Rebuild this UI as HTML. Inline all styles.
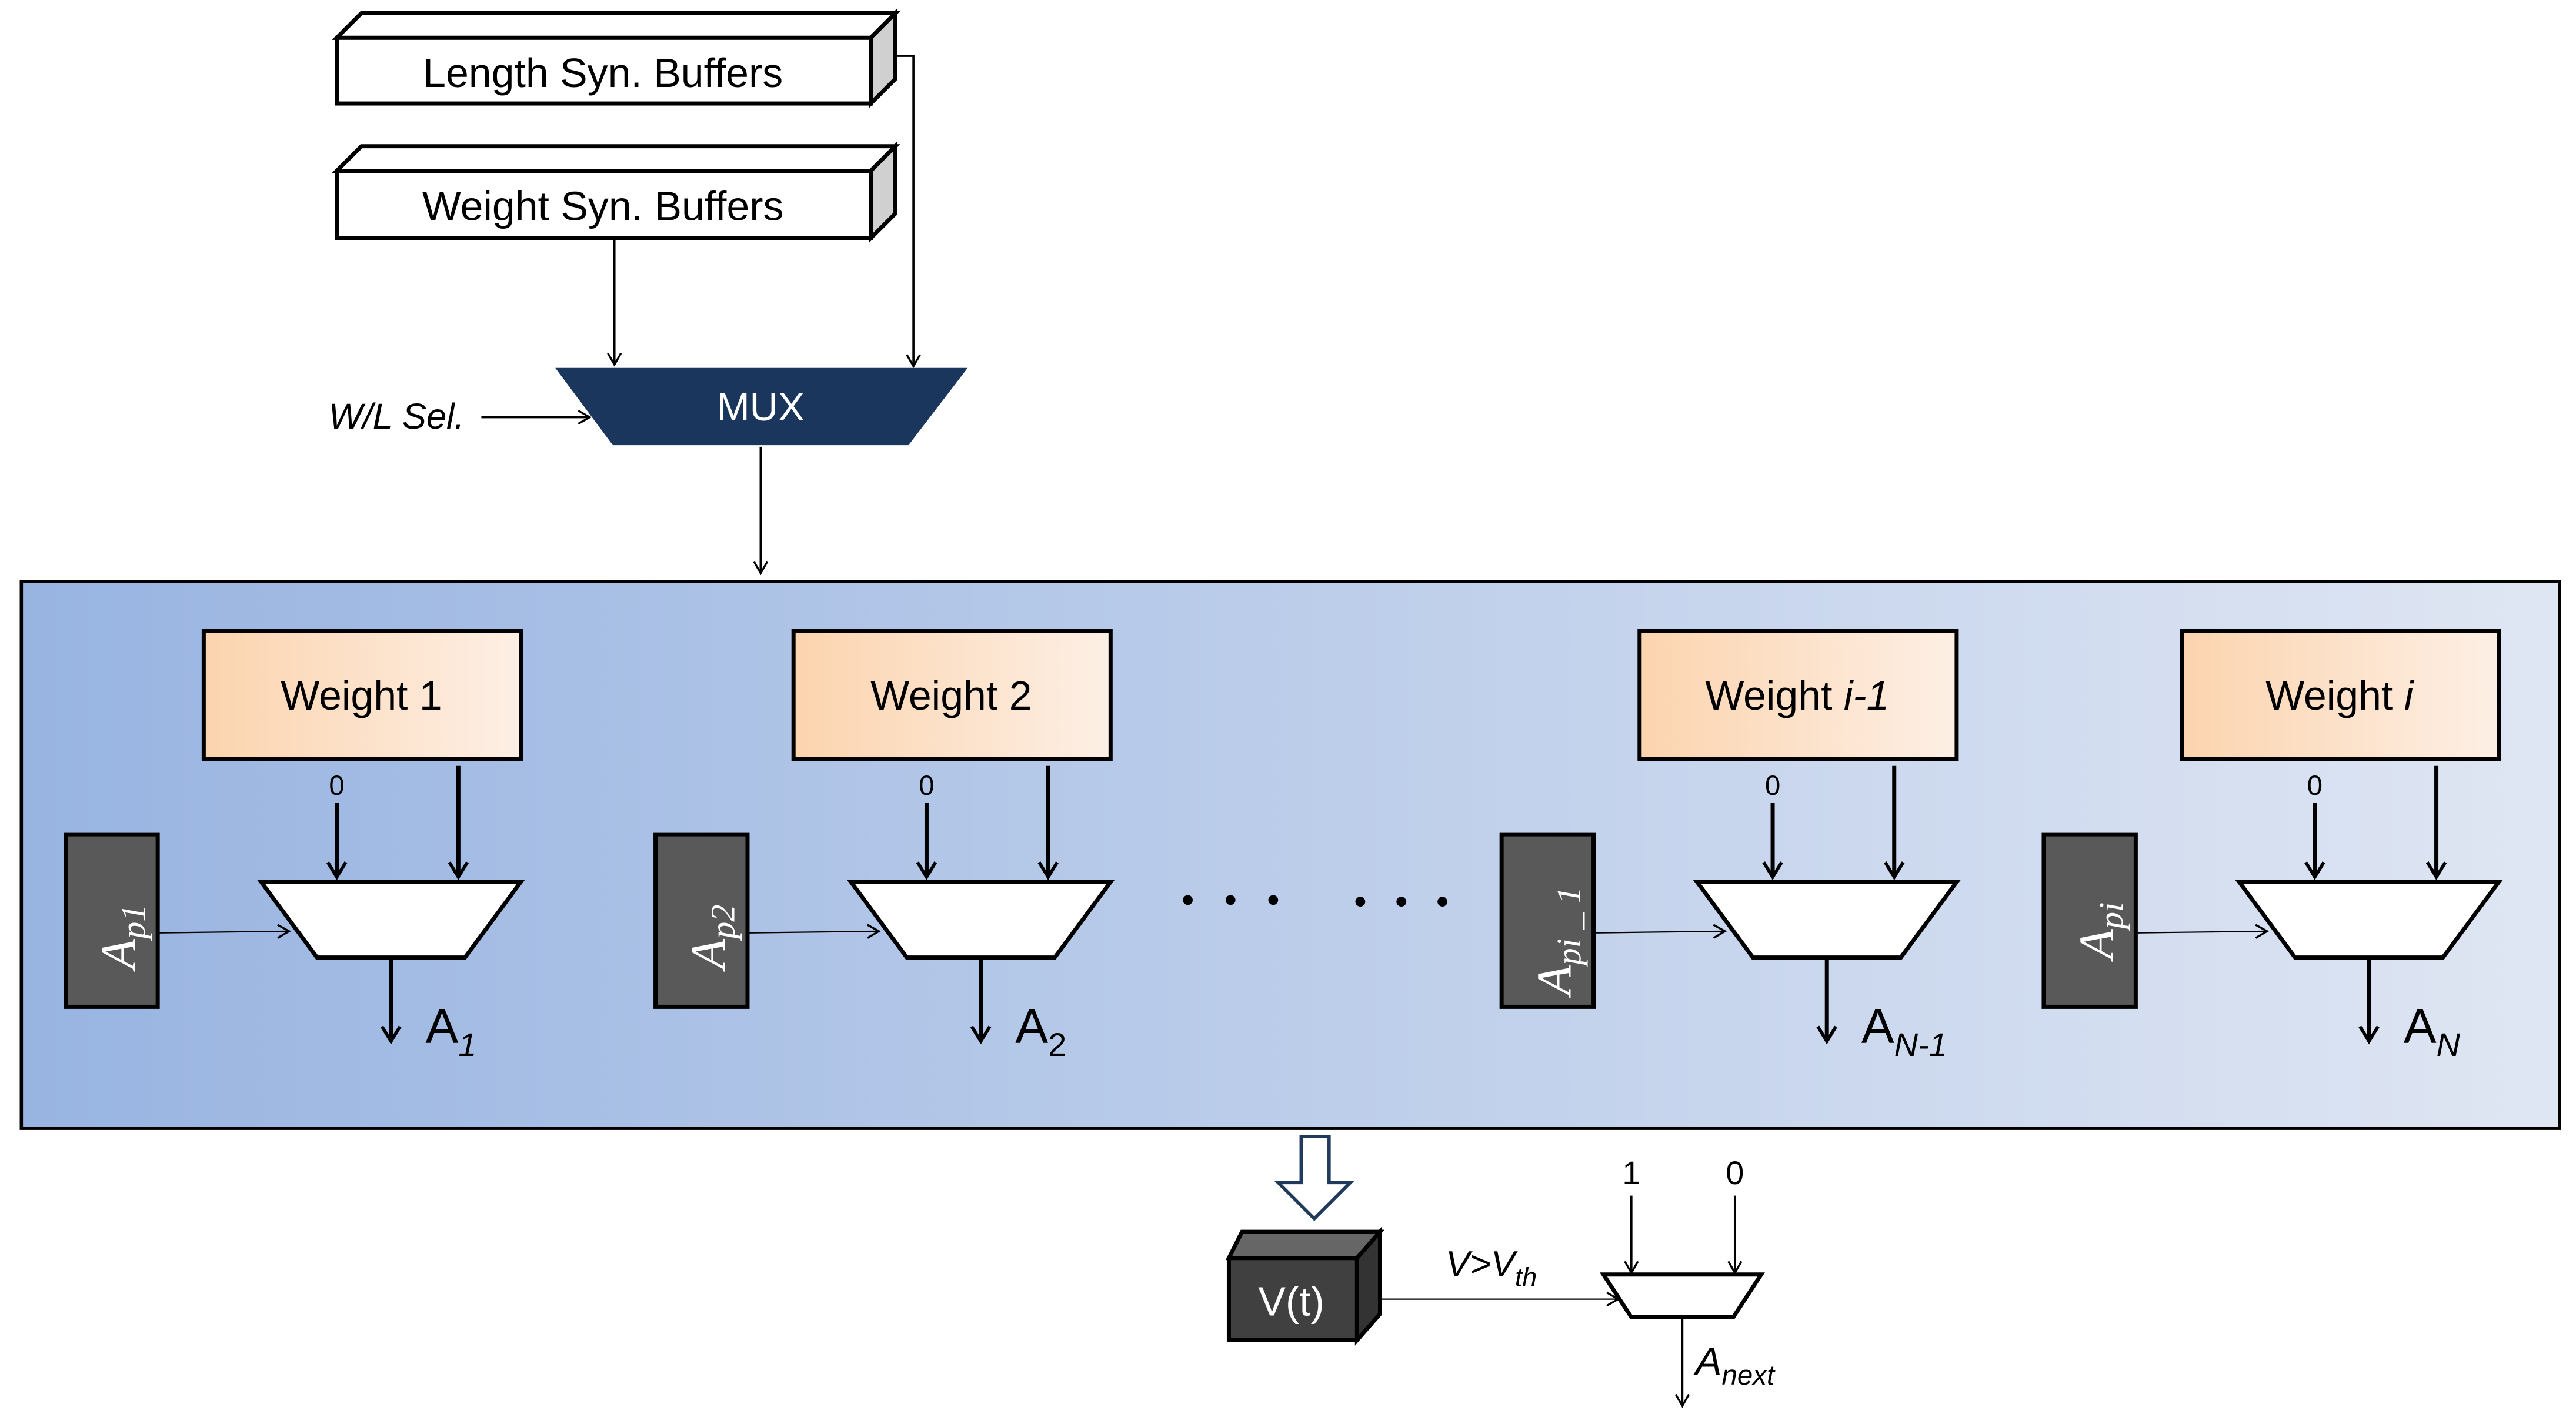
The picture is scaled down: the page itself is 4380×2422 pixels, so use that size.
<!DOCTYPE html>
<html><head><meta charset="utf-8"><style>
html,body{margin:0;padding:0;background:#fff}
svg{display:block}
</style></head><body>
<svg width="4380" height="2422" viewBox="0 0 1568 867" xmlns="http://www.w3.org/2000/svg" font-family="Liberation Sans, sans-serif">
<defs>
<linearGradient id="bg" x1="0" x2="1" y1="0" y2="0"><stop offset="0" stop-color="#98b4e1"/><stop offset="1" stop-color="#dfe6f3"/></linearGradient>
<linearGradient id="wg" x1="0" x2="1" y1="0" y2="0"><stop offset="0" stop-color="#fcd4ae"/><stop offset="1" stop-color="#fdefe5"/></linearGradient>
<marker id="ah" markerWidth="10" markerHeight="10" refX="8" refY="5" orient="auto" markerUnits="userSpaceOnUse"><path d="M1,1 L8,5 L1,9" fill="none" stroke="#000" stroke-width="1.2"/></marker>
<marker id="ahb" markerWidth="12" markerHeight="14" refX="10" refY="7" orient="auto" markerUnits="userSpaceOnUse"><path d="M1,1.5 L10,7 L1,12.5" fill="none" stroke="#000" stroke-width="2"/></marker>
</defs>
<g stroke="#000" stroke-width="2.5">
<polygon points="205,23 220,8 545,8 530,23" fill="#fff"/>
<polygon points="530,23 545,8 545,48 530,63" fill="#d0d0d0"/>
<rect x="205" y="23" width="325" height="40" fill="#fff"/>
<polygon points="205,104 220,89 545,89 530,104" fill="#fff"/>
<polygon points="530,104 545,89 545,130 530,145" fill="#d0d0d0"/>
<rect x="205" y="104" width="325" height="41" fill="#fff"/>
</g>
<text x="367" y="53" font-size="25" text-anchor="middle">Length Syn. Buffers</text>
<text x="367" y="134" font-size="25" text-anchor="middle">Weight Syn. Buffers</text>
<g stroke="#000" stroke-width="1.3" fill="none">
<polyline points="545,34 556,34 556,223" marker-end="url(#ah)"/>
<line x1="374" y1="145" x2="374" y2="222" marker-end="url(#ah)"/>
<line x1="293" y1="254" x2="359" y2="254" marker-end="url(#ah)"/>
<line x1="463" y1="272" x2="463" y2="349" marker-end="url(#ah)"/>
</g>
<polygon points="338,224 589,224 553,271 373,271" fill="#1b365d"/>
<text x="463" y="256" font-size="24" fill="#fff" text-anchor="middle">MUX</text>
<text x="200" y="261" font-size="22" font-style="italic">W/L Sel.</text>
<rect x="13" y="354" width="1545" height="333" fill="url(#bg)" stroke="#000" stroke-width="2"/>
<g font-size="25">
<g transform="translate(0,0)">
<rect x="124" y="384" width="193" height="78" fill="url(#wg)" stroke="#000" stroke-width="2.5"/>
<text x="220" y="432" text-anchor="middle">Weight 1</text>
</g>
<g transform="translate(359,0)">
<rect x="124" y="384" width="193" height="78" fill="url(#wg)" stroke="#000" stroke-width="2.5"/>
<text x="220" y="432" text-anchor="middle">Weight 2</text>
</g>
<g transform="translate(874,0)">
<rect x="124" y="384" width="193" height="78" fill="url(#wg)" stroke="#000" stroke-width="2.5"/>
<text x="220" y="432" text-anchor="middle">Weight <tspan font-style="italic">i-1</tspan></text>
</g>
<g transform="translate(1204,0)">
<rect x="124" y="384" width="193" height="78" fill="url(#wg)" stroke="#000" stroke-width="2.5"/>
<text x="220" y="432" text-anchor="middle">Weight <tspan font-style="italic">i</tspan></text>
</g>
</g>
<g>
<g transform="translate(0,0)">
<text x="205" y="484" font-size="17" text-anchor="middle">0</text>
<line x1="205" y1="489" x2="205" y2="534" stroke="#000" stroke-width="2.5" marker-end="url(#ahb)"/>
<line x1="279" y1="466" x2="279" y2="534" stroke="#000" stroke-width="2.5" marker-end="url(#ahb)"/>
<polygon points="159,537 317,537 283,583 193,583" fill="#fff" stroke="#000" stroke-width="2.5"/>
<line x1="238" y1="583" x2="238" y2="634" stroke="#000" stroke-width="2.5" marker-end="url(#ahb)"/>
<rect x="40" y="508" width="56" height="105" fill="#595959" stroke="#000" stroke-width="2.5"/>
<line x1="96" y1="568" x2="176" y2="567" stroke="#000" stroke-width="0.8" marker-end="url(#ah)"/>
</g>
<g transform="translate(359,0)">
<text x="205" y="484" font-size="17" text-anchor="middle">0</text>
<line x1="205" y1="489" x2="205" y2="534" stroke="#000" stroke-width="2.5" marker-end="url(#ahb)"/>
<line x1="279" y1="466" x2="279" y2="534" stroke="#000" stroke-width="2.5" marker-end="url(#ahb)"/>
<polygon points="159,537 317,537 283,583 193,583" fill="#fff" stroke="#000" stroke-width="2.5"/>
<line x1="238" y1="583" x2="238" y2="634" stroke="#000" stroke-width="2.5" marker-end="url(#ahb)"/>
<rect x="40" y="508" width="56" height="105" fill="#595959" stroke="#000" stroke-width="2.5"/>
<line x1="96" y1="568" x2="176" y2="567" stroke="#000" stroke-width="0.8" marker-end="url(#ah)"/>
</g>
<g transform="translate(874,0)">
<text x="205" y="484" font-size="17" text-anchor="middle">0</text>
<line x1="205" y1="489" x2="205" y2="534" stroke="#000" stroke-width="2.5" marker-end="url(#ahb)"/>
<line x1="279" y1="466" x2="279" y2="534" stroke="#000" stroke-width="2.5" marker-end="url(#ahb)"/>
<polygon points="159,537 317,537 283,583 193,583" fill="#fff" stroke="#000" stroke-width="2.5"/>
<line x1="238" y1="583" x2="238" y2="634" stroke="#000" stroke-width="2.5" marker-end="url(#ahb)"/>
<rect x="40" y="508" width="56" height="105" fill="#595959" stroke="#000" stroke-width="2.5"/>
<line x1="96" y1="568" x2="176" y2="567" stroke="#000" stroke-width="0.8" marker-end="url(#ah)"/>
</g>
<g transform="translate(1204,0)">
<text x="205" y="484" font-size="17" text-anchor="middle">0</text>
<line x1="205" y1="489" x2="205" y2="534" stroke="#000" stroke-width="2.5" marker-end="url(#ahb)"/>
<line x1="279" y1="466" x2="279" y2="534" stroke="#000" stroke-width="2.5" marker-end="url(#ahb)"/>
<polygon points="159,537 317,537 283,583 193,583" fill="#fff" stroke="#000" stroke-width="2.5"/>
<line x1="238" y1="583" x2="238" y2="634" stroke="#000" stroke-width="2.5" marker-end="url(#ahb)"/>
<rect x="40" y="508" width="56" height="105" fill="#595959" stroke="#000" stroke-width="2.5"/>
<line x1="96" y1="568" x2="176" y2="567" stroke="#000" stroke-width="0.8" marker-end="url(#ah)"/>
</g>
</g>
<g fill="#fff" font-family="Liberation Serif, serif" font-style="italic" font-size="30">
<text transform="translate(82,590) rotate(-90)">A<tspan font-size="21" dy="6">p1</tspan></text>
<text transform="translate(441,590) rotate(-90)">A<tspan font-size="21" dy="6">p2</tspan></text>
<text transform="translate(956,606) rotate(-90)">A<tspan font-size="21" dy="6">pi _ 1</tspan></text>
<text transform="translate(1286,584) rotate(-90)">A<tspan font-size="21" dy="6">pi</tspan></text>
</g>
<g font-size="30">
<text x="259" y="635">A<tspan font-size="20" font-style="italic" dy="8">1</tspan></text>
<text x="618" y="635">A<tspan font-size="20" dy="8">2</tspan></text>
<text x="1133" y="635">A<tspan font-size="20" font-style="italic" dy="8">N-1</tspan></text>
<text x="1463" y="635">A<tspan font-size="20" font-style="italic" dy="8">N</tspan></text>
</g>
<g fill="#000">
<circle cx="723" cy="548" r="3"/><circle cx="749" cy="548" r="3"/><circle cx="775" cy="548" r="3"/>
<circle cx="828" cy="549" r="3"/><circle cx="853" cy="549" r="3"/><circle cx="878" cy="549" r="3"/>
</g>
<polygon points="792,692 809,692 809,720 822,720 800,742 778,720 792,720" fill="#fff" stroke="#1f3a5a" stroke-width="2"/>
<g stroke="#000" stroke-width="2.5">
<polygon points="748,766 756,750 840,750 826,766" fill="#666"/>
<polygon points="826,766 840,750 840,800 826,816" fill="#333"/>
<rect x="748" y="766" width="78" height="50" fill="#404040"/>
</g>
<text x="786" y="801" font-size="25" fill="#fff" text-anchor="middle">V(t)</text>
<line x1="840" y1="791" x2="985" y2="791" stroke="#000" stroke-width="0.8" marker-end="url(#ah)"/>
<text x="880" y="777" font-size="22" font-style="italic">V&gt;V<tspan font-size="16" dy="6">th</tspan></text>
<text x="993" y="721" font-size="20" text-anchor="middle">1</text>
<text x="1056" y="721" font-size="20" text-anchor="middle">0</text>
<line x1="993" y1="728" x2="993" y2="775" stroke="#000" stroke-width="1.3" marker-end="url(#ah)"/>
<line x1="1056" y1="728" x2="1056" y2="775" stroke="#000" stroke-width="1.3" marker-end="url(#ah)"/>
<polygon points="976,776 1072,776 1055,802 993,802" fill="#fff" stroke="#000" stroke-width="2.5"/>
<line x1="1024" y1="802" x2="1024" y2="856" stroke="#000" stroke-width="1.3" marker-end="url(#ah)"/>
<text x="1032" y="837" font-size="24" font-style="italic">A<tspan font-size="17" dy="6">next</tspan></text>
</svg>
</body></html>
